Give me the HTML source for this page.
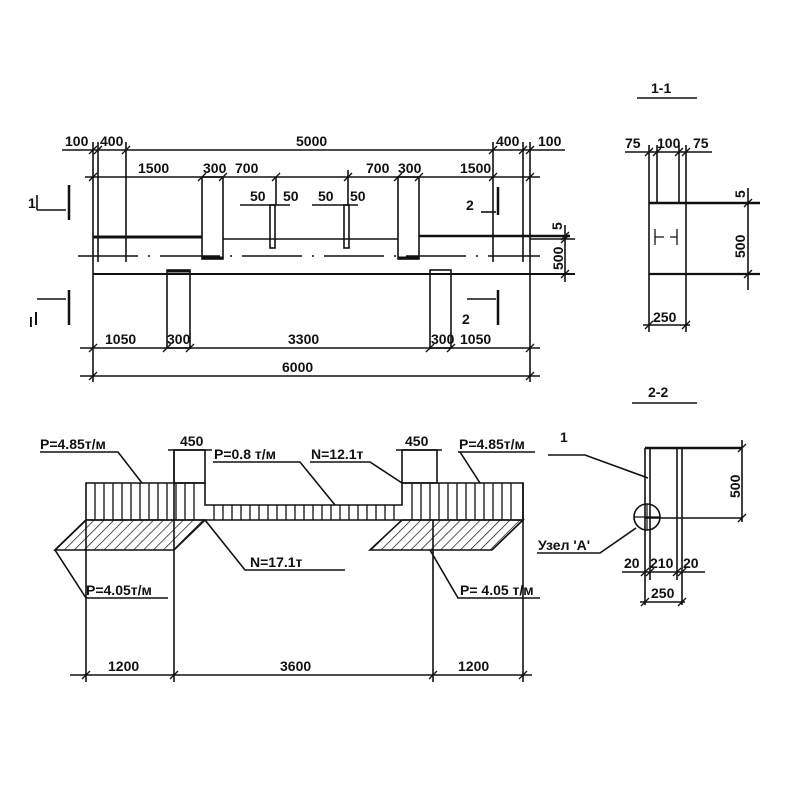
<!DOCTYPE html>
<html><head><meta charset="utf-8"><style>
html,body{margin:0;padding:0;background:#fff;}
svg{display:block;}
text{font-family:"Liberation Sans Narrow","Liberation Sans",sans-serif;font-weight:bold;font-size:14px;fill:#111;}
</style></head><body>
<svg width="800" height="800" viewBox="0 0 800 800" xmlns="http://www.w3.org/2000/svg">
<defs>
<pattern id="h" patternUnits="userSpaceOnUse" width="7" height="7" patternTransform="rotate(45)">
<line x1="0" y1="0" x2="0" y2="7" stroke="#111" stroke-width="1.4"/>
</pattern>
</defs>
<g stroke="#111" stroke-width="1.6" fill="none">
<!-- ===== Top view ===== -->
<line x1="62" y1="150" x2="565" y2="150"/>
<line x1="85" y1="177" x2="540" y2="177"/>
<line x1="93" y1="142" x2="93" y2="382"/>
<line x1="98" y1="142" x2="98" y2="262"/>
<line x1="126" y1="142" x2="126" y2="262"/>
<line x1="493" y1="142" x2="493" y2="262"/>
<line x1="523" y1="142" x2="523" y2="262"/>
<line x1="530" y1="142" x2="530" y2="382"/>
<!-- beam lines -->
<line x1="93" y1="237" x2="202" y2="237" stroke-width="3"/>
<line x1="223" y1="239" x2="398" y2="239"/>
<line x1="419" y1="236" x2="570" y2="236" stroke-width="2.5"/>
<rect x="202" y="177" width="21" height="82"/>
<line x1="202" y1="258" x2="223" y2="258" stroke-width="3"/>
<rect x="398" y="177" width="21" height="82"/>
<line x1="398" y1="258" x2="419" y2="258" stroke-width="3"/>
<line x1="78" y1="256" x2="540" y2="256" stroke-dasharray="60,10,2,10"/>
<line x1="93" y1="274" x2="575" y2="274" stroke-width="2"/>
<rect x="167" y="270" width="23" height="78"/>
<line x1="167" y1="271" x2="190" y2="271" stroke-width="3"/>
<rect x="430" y="270" width="21" height="78"/>
<!-- bars -->
<line x1="276" y1="177" x2="276" y2="205"/>
<line x1="348" y1="170" x2="348" y2="205"/>
<line x1="240" y1="205" x2="290" y2="205"/>
<line x1="312" y1="205" x2="358" y2="205"/>
<rect x="270" y="205" width="5" height="43"/>
<rect x="344" y="205" width="5" height="43"/>
<!-- right 5/500 dim -->
<line x1="565" y1="225" x2="565" y2="282"/>
<line x1="530" y1="239" x2="575" y2="239"/>
<!-- bottom dims -->
<line x1="80" y1="348" x2="540" y2="348"/>
<line x1="80" y1="376" x2="540" y2="376"/>
<!-- section marks -->
<line x1="69" y1="185" x2="69" y2="220" stroke-width="2.5"/>
<line x1="37" y1="210" x2="66" y2="210"/>
<line x1="37" y1="195" x2="37" y2="210"/>
<line x1="69" y1="290" x2="69" y2="325" stroke-width="2.5"/>
<line x1="37" y1="299" x2="66" y2="299"/>
<line x1="36" y1="312" x2="36" y2="325" stroke-width="2"/>
<line x1="498" y1="187" x2="498" y2="215" stroke-width="2.5"/>
<line x1="481" y1="212" x2="496" y2="212"/>
<line x1="498" y1="290" x2="498" y2="325" stroke-width="2.5"/>
<line x1="467" y1="299" x2="496" y2="299"/>
<!-- ticks -->
<g stroke-width="1.3">
<path d="M89,154 L97,146 M94,154 L102,146 M122,154 L130,146 M489,154 L497,146 M519,154 L527,146 M526,154 L534,146"/>
<path d="M89,181 L97,173 M198,181 L206,173 M219,181 L227,173 M272,181 L280,173 M344,181 L352,173 M394,181 L402,173 M415,181 L423,173 M489,181 L497,173 M526,181 L534,173"/>
<path d="M89,352 L97,344 M163,352 L171,344 M186,352 L194,344 M426,352 L434,344 M447,352 L455,344 M526,352 L534,344"/>
<path d="M89,380 L97,372 M526,380 L534,372"/>
<path d="M561,243 L569,235 M561,278 L569,270 M561,240 L569,232"/>
</g>
<!-- ===== Loads diagram ===== -->
<path d="M86,483 H205 V505 H402 V483 H523 V520 H86 Z"/>
<path d="M55,550 L86,520 L205,520 L174,550 Z" fill="url(#h)"/>
<path d="M370,550 L402,520 L523,520 L492,550 Z" fill="url(#h)"/>
<g stroke-width="1.3">
<path d="M95,483V520M104,483V520M113,483V520M122,483V520M131,483V520M140,483V520M149,483V520M158,483V520M167,483V520M176,483V520M185,483V520M194,483V520"/>
<path d="M214,505V520M223,505V520M232,505V520M241,505V520M250,505V520M259,505V520M268,505V520M277,505V520M286,505V520M295,505V520M304,505V520M313,505V520M322,505V520M331,505V520M340,505V520M349,505V520M358,505V520M367,505V520M376,505V520M385,505V520M394,505V520"/>
<path d="M412,483V520M421,483V520M430,483V520M439,483V520M448,483V520M457,483V520M466,483V520M475,483V520M484,483V520M493,483V520M502,483V520M511,483V520"/>
</g>
<rect x="174" y="450" width="31" height="33"/>
<rect x="402" y="450" width="35" height="33"/>
<line x1="168" y1="450" x2="212" y2="450"/>
<line x1="396" y1="450" x2="442" y2="450"/>
<line x1="86" y1="520" x2="86" y2="682"/>
<line x1="174" y1="450" x2="174" y2="682"/>
<line x1="433" y1="520" x2="433" y2="682"/>
<line x1="523" y1="483" x2="523" y2="682"/>
<line x1="70" y1="675" x2="532" y2="675"/>
<path d="M82,679 L90,671 M170,679 L178,671 M429,679 L437,671 M519,679 L527,671" stroke-width="1.3"/>
<!-- leaders -->
<polyline points="40,452 118,452 142,483"/>
<polyline points="213,462 300,462 335,505"/>
<polyline points="310,462 370,462 402,483"/>
<polyline points="458,452 535,452"/>
<line x1="460" y1="452" x2="480" y2="483"/>
<polyline points="345,570 245,570 205,520"/>
<polyline points="168,598 86,598 55,550 86,520"/>
<polyline points="540,598 458,598 430,550"/>
<!-- ===== Section 1-1 ===== -->
<line x1="637" y1="98" x2="697" y2="98"/>
<line x1="625" y1="152" x2="712" y2="152"/>
<line x1="649" y1="145" x2="649" y2="332"/>
<line x1="686" y1="145" x2="686" y2="332"/>
<line x1="657" y1="145" x2="657" y2="203"/>
<line x1="679" y1="145" x2="679" y2="203"/>
<line x1="649" y1="203" x2="760" y2="203" stroke-width="2.5"/>
<line x1="649" y1="274" x2="760" y2="274" stroke-width="2.2"/>
<line x1="748" y1="188" x2="748" y2="290"/>
<line x1="643" y1="325" x2="690" y2="325"/>
<path d="M655,229 V245 M677,229 V245 M655,237 H664 M670,237 H677" stroke-width="1.3"/>
<path d="M645,156 L653,148 M653,156 L661,148 M675,156 L683,148 M682,156 L690,148 M744,207 L752,199 M744,278 L752,270 M645,329 L653,321 M682,329 L690,321" stroke-width="1.3"/>
<!-- ===== Section 2-2 ===== -->
<line x1="632" y1="403" x2="697" y2="403"/>
<line x1="645" y1="448" x2="645" y2="605"/>
<line x1="650" y1="448" x2="650" y2="580"/>
<line x1="677" y1="448" x2="677" y2="580"/>
<line x1="682" y1="448" x2="682" y2="605"/>
<line x1="645" y1="448" x2="742" y2="448" stroke-width="2.5"/>
<line x1="645" y1="518" x2="742" y2="518"/>
<line x1="742" y1="440" x2="742" y2="522"/>
<line x1="622" y1="572" x2="705" y2="572"/>
<line x1="640" y1="602" x2="685" y2="602"/>
<circle cx="647" cy="517" r="13"/>
<line x1="634" y1="517" x2="660" y2="517" stroke-width="1.2"/>
<line x1="647" y1="504" x2="647" y2="530" stroke-width="1.2"/>
<polyline points="548,455 585,455 648,478"/>
<polyline points="537,553 600,553 636,528"/>
<path d="M641,576 L649,568 M646,576 L654,568 M673,576 L681,568 M678,576 L686,568 M738,452 L746,444 M738,522 L746,514 M641,606 L649,598 M678,606 L686,598" stroke-width="1.3"/>
</g>
<!-- ===== Texts ===== -->
<text x="65" y="146">100</text><text x="100" y="146">400</text>
<text x="296" y="146">5000</text>
<text x="496" y="146">400</text><text x="538" y="146">100</text>
<text x="138" y="173">1500</text><text x="203" y="173">300</text><text x="235" y="173">700</text>
<text x="366" y="173">700</text><text x="398" y="173">300</text><text x="460" y="173">1500</text>
<text x="250" y="201">50</text><text x="283" y="201">50</text>
<text x="318" y="201">50</text><text x="350" y="201">50</text>
<text x="28" y="208" font-size="18">1</text>
<text x="29" y="327" font-size="16">l</text>
<text x="466" y="210" font-size="20">2</text>
<text x="462" y="324" font-size="20">2</text>
<text x="562" y="230" transform="rotate(-90 562 230)" font-size="13">5</text>
<text x="563" y="270" transform="rotate(-90 563 270)" font-size="13">500</text>
<text x="105" y="344">1050</text><text x="167" y="344" font-size="12">300</text>
<text x="288" y="344">3300</text><text x="431" y="344" font-size="12">300</text><text x="460" y="344">1050</text>
<text x="282" y="372">6000</text>
<text x="40" y="449" font-size="13">P=4.85т/м</text>
<text x="180" y="446">450</text>
<text x="214" y="459" font-size="13">P=0.8 т/м</text>
<text x="311" y="459" font-size="13">N=12.1т</text>
<text x="405" y="446">450</text>
<text x="459" y="449" font-size="13">P=4.85т/м</text>
<text x="250" y="567" font-size="13">N=17.1т</text>
<text x="86" y="595" font-size="13">P=4.05т/м</text>
<text x="460" y="595" font-size="13">P= 4.05 т/м</text>
<text x="108" y="671">1200</text><text x="280" y="671">3600</text><text x="458" y="671">1200</text>
<text x="651" y="93" font-size="18">1-1</text>
<text x="625" y="148">75</text><text x="657" y="148">100</text><text x="693" y="148">75</text>
<text x="745" y="198" transform="rotate(-90 745 198)" font-size="13">5</text>
<text x="745" y="258" transform="rotate(-90 745 258)" font-size="13">500</text>
<text x="653" y="322">250</text>
<text x="648" y="397" font-size="18">2-2</text>
<text x="560" y="442" font-size="18">1</text>
<text x="740" y="498" transform="rotate(-90 740 498)" font-size="13">500</text>
<text x="538" y="550" font-size="12">Узел 'А'</text>
<text x="624" y="568" font-size="13">20</text><text x="650" y="568" font-size="13">210</text><text x="683" y="568" font-size="13">20</text>
<text x="651" y="598">250</text>
</svg>
</body></html>
